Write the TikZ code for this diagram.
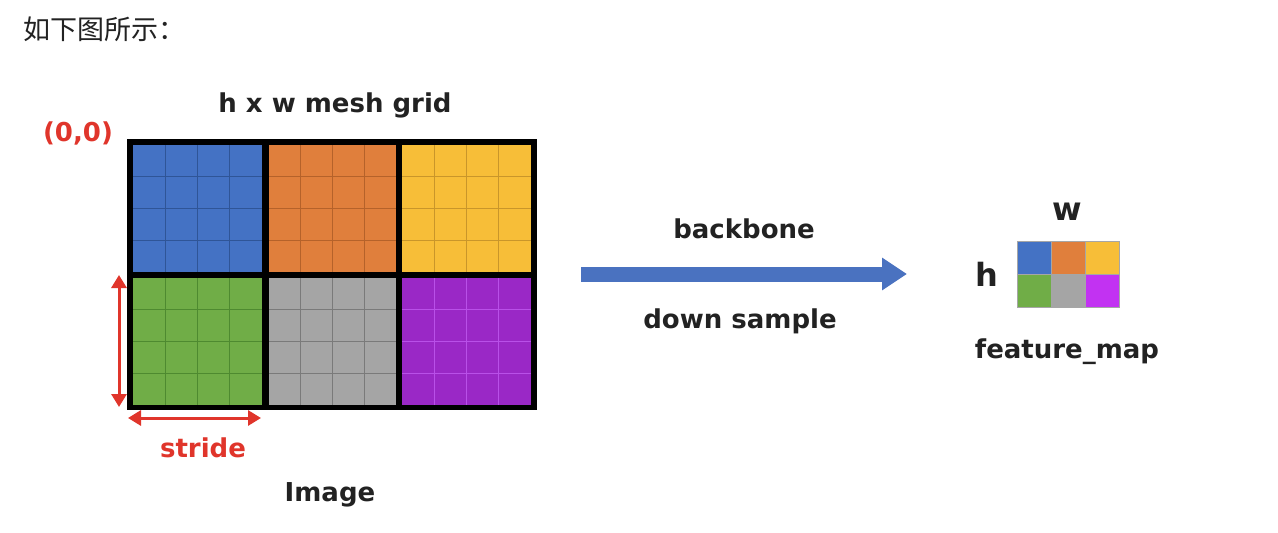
\documentclass[tikz,border=0pt]{standalone}
\usepackage{fontspec}
\setmainfont{DejaVu Sans}
\newfontfamily\cjk{Noto Sans CJK SC}
\usetikzlibrary{arrows.meta}
\definecolor{cblue}{HTML}{4472C4}
\definecolor{cblueL}{HTML}{2F5597}
\definecolor{corange}{HTML}{E07F3C}
\definecolor{corangeL}{HTML}{B5622A}
\definecolor{cyellow}{HTML}{F7BE38}
\definecolor{cyellowL}{HTML}{C9962A}
\definecolor{cgreen}{HTML}{70AD47}
\definecolor{cgreenL}{HTML}{4E8A30}
\definecolor{cgray}{HTML}{A5A5A5}
\definecolor{cgrayL}{HTML}{7A7A7A}
\definecolor{cpurple}{HTML}{9A28C6}
\definecolor{cpurpleL}{HTML}{B950E8}
\definecolor{cpurple2}{HTML}{C232F2}
\definecolor{cred}{HTML}{E0352B}
\definecolor{arrowblue}{HTML}{4A72C0}
\definecolor{txt}{HTML}{222222}
\tikzset{
  lbl/.style={font=\bfseries\fontsize{26}{30}\selectfont, text=txt, inner sep=0pt},
  redlbl/.style={font=\bfseries\fontsize{26}{30}\selectfont, text=cred, inner sep=0pt},
  redarrow/.style={cred, line width=3pt, {Triangle[length=13pt,width=15pt]}-{Triangle[length=13pt,width=15pt]}},
  fmcell/.style={draw=black!35, line width=0.6pt, minimum width=34pt, minimum height=33pt, inner sep=0pt}
}
\newcommand\gridblock[6]{%
  \fill[#1] (#3,#4) rectangle (#5,#6);
  \foreach \i in {1,2,3} {
    \draw[#2, line width=1.2pt] ({#3+\i*(#5-#3)/4},#4) -- ({#3+\i*(#5-#3)/4},#6);
    \draw[#2, line width=1.2pt] (#3,{#4+\i*(#6-#4)/4}) -- (#5,{#4+\i*(#6-#4)/4});
  }
}
\begin{document}
\begin{tikzpicture}[x=1pt,y=-1pt]
\useasboundingbox[fill=white] (0,0) rectangle (1278,533);
% title
\node[anchor=west, inner sep=0pt, font=\cjk\fontsize{27}{30}\selectfont, text=txt] (title) at (23,29) {如下图所示：};
% image grid
\fill[black] (127,139) rectangle (537,410);
\node[inner sep=0pt, minimum width=410pt, minimum height=271pt] (image) at (332,274.5) {};
\gridblock{cblue}{cblueL}{133}{145}{262}{272}
\gridblock{corange}{corangeL}{269}{145}{396}{272}
\gridblock{cyellow}{cyellowL}{402}{145}{531}{272}
\gridblock{cgreen}{cgreenL}{133}{278}{262}{405}
\gridblock{cgray}{cgrayL}{269}{278}{396}{405}
\gridblock{cpurple}{cpurpleL}{402}{278}{531}{405}
% labels
\node[lbl] (mesh) at (335,105) {h x w mesh grid};
\node[redlbl] (origin) at (78,133) {(0,0)};
\node[redlbl] (stride) at (203,448) {stride};
\node[lbl] (imagelbl) at (330,495) {Image};
% red arrows
\coordinate (vtop) at (119,275);
\coordinate (vbot) at (119,407);
\coordinate (hl) at (128,418);
\coordinate (hr) at (261,418);
\draw[redarrow] (vtop) -- (vbot);
\draw[redarrow] (hl) -- (hr);
% big arrow
\coordinate (astart) at (581,274);
\coordinate (aend) at (907,274);
\draw[arrowblue, line width=15pt, -{Triangle[length=25pt,width=31pt]}] (astart) -- (aend);
\node[lbl] (backbone) at (744,229) {backbone};
\node[lbl] (down) at (740,321) {down sample};
% feature map
\node[fmcell, fill=cblue] (f11) at (1034,257.5) {};
\node[fmcell, fill=corange] (f12) at (1068,257.5) {};
\node[fmcell, fill=cyellow] (f13) at (1102,257.5) {};
\node[fmcell, fill=cgreen] (f21) at (1034,290.5) {};
\node[fmcell, fill=cgray] (f22) at (1068,290.5) {};
\node[fmcell, fill=cpurple2] (f23) at (1102,290.5) {};
\node[font=\bfseries\fontsize{32}{36}\selectfont, text=txt, inner sep=0pt] (wlbl) at (1067,212) {w};
\node[font=\bfseries\fontsize{32}{36}\selectfont, text=txt, inner sep=0pt] (hlbl) at (987,274) {h};
\node[lbl] (fmlbl) at (1067,352) {feature\_map};
\end{tikzpicture}
\end{document}
